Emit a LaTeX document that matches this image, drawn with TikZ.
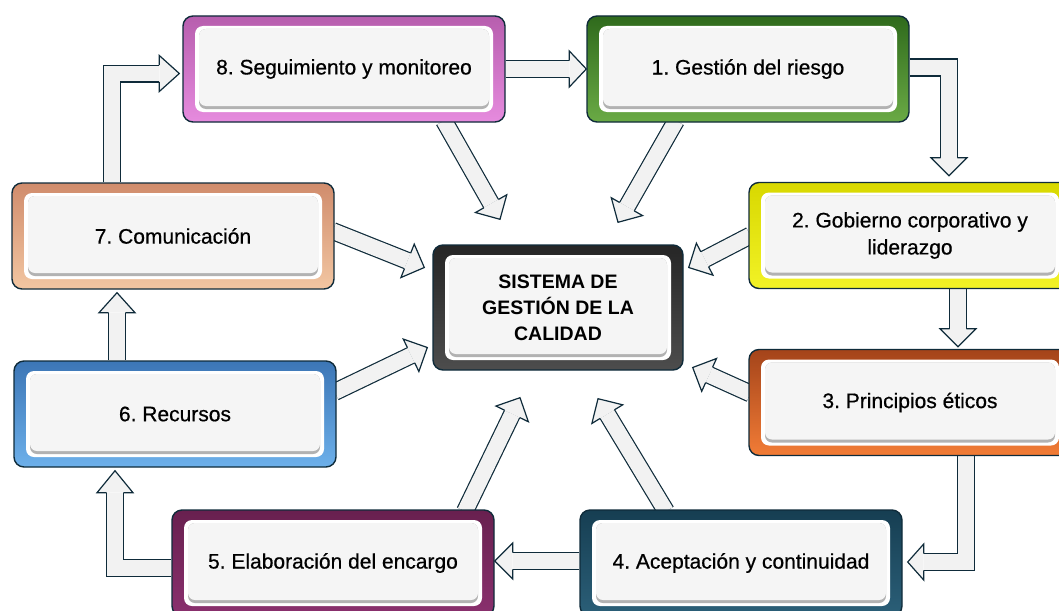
\documentclass[tikz,border=0pt]{standalone}
\usepackage{fontspec}
\setmainfont{Liberation Sans}
\newfontfamily\stagefont[FakeBold=0.6]{Liberation Sans}
\usetikzlibrary{calc,backgrounds}

\definecolor{edge}{HTML}{0F2B3A}
\definecolor{arrowfill}{HTML}{F2F2F2}
\definecolor{facefill}{HTML}{F5F5F5}
\definecolor{pinkT}{HTML}{B75EAE}
\definecolor{pinkB}{HTML}{E68BDE}
\definecolor{greenT}{HTML}{2F6A1C}
\definecolor{greenB}{HTML}{6AAA45}
\definecolor{yellowT}{HTML}{D8D800}
\definecolor{yellowB}{HTML}{F2F226}
\definecolor{orangeT}{HTML}{A4441A}
\definecolor{orangeB}{HTML}{F27C36}
\definecolor{tealT}{HTML}{163E52}
\definecolor{tealB}{HTML}{2B5F78}
\definecolor{plumT}{HTML}{68204F}
\definecolor{plumB}{HTML}{8A306E}
\definecolor{blueT}{HTML}{3C76B6}
\definecolor{blueB}{HTML}{6DB0EA}
\definecolor{peachT}{HTML}{D08C6C}
\definecolor{peachB}{HTML}{F2C6A2}
\definecolor{coreT}{HTML}{262626}
\definecolor{coreB}{HTML}{4D4D4D}

\frenchspacing

\begin{document}
\begin{tikzpicture}[x=1pt,y=-1pt]
    \tikzstyle{stage}=[rounded corners=10pt, draw=edge, line width=1.4pt, minimum width=322pt, minimum height=106pt,
        inner sep=0pt, align=center, text=black, font=\stagefont\fontsize{21}{27}\selectfont,
        path picture={
            \fill[white, rounded corners=8pt] ([shift={(12pt,-10pt)}]path picture bounding box.north west) rectangle ([shift={(-12pt,10pt)}]path picture bounding box.south east);
            \fill[black!30, rounded corners=7pt] ([shift={(16pt,-13pt)}]path picture bounding box.north west) rectangle ([shift={(-16pt,13pt)}]path picture bounding box.south east);
            \fill[facefill, rounded corners=7pt] ([shift={(16pt,-13pt)}]path picture bounding box.north west) rectangle ([shift={(-16pt,16pt)}]path picture bounding box.south east);
        }]
    \tikzstyle{shaft}=[line width=15.6pt, draw=arrowfill, preaction={draw=edge, line width=18pt}]
    \tikzstyle{head}=[fill=arrowfill, draw=edge, line width=1.2pt, line join=miter]

    \useasboundingbox (0,0) rectangle (1059,610);

    % Draw the eight stages round the system
    \foreach \name/\x/\y/\ct/\cb/\txt in {
        b8/344/69/pinkT/pinkB/{8. Seguimiento y monitoreo},
        b1/748/69/greenT/greenB/{1. Gestión del riesgo},
        b2/910/235.5/yellowT/yellowB/{2. Gobierno corporativo y\\liderazgo},
        b3/910/402.5/orangeT/orangeB/{3. Principios éticos},
        b4/741/563/tealT/tealB/{4. Aceptación y continuidad},
        b5/333/563/plumT/plumB/{5. Elaboración del encargo},
        b6/175/414/blueT/blueB/{6. Recursos},
        b7/173/236/peachT/peachB/{7. Comunicación}}
        \node[stage, top color=\ct, bottom color=\cb] (\name) at (\x,\y) {\txt};

    % The system in the middle
    \node[stage, top color=coreT, bottom color=coreB, minimum width=250pt, minimum height=125pt,
        font=\fontsize{19.5}{26}\selectfont\bfseries] (core) at (558,307.5) {SISTEMA DE\\GESTIÓN DE LA\\CALIDAD};

    % Ends of the arrows into the system
    \coordinate (s8) at ([xshift=100pt,yshift=2pt]b8.south);
    \coordinate (t8) at ([xshift=-58pt,yshift=25pt]core.north);
    \coordinate (s1) at ([xshift=-72pt,yshift=2pt]b1.south);
    \coordinate (t1) at ([xshift=60pt,yshift=22pt]core.north);
    \coordinate (s2) at ([xshift=2pt]b2.west);
    \coordinate (t2) at ([xshift=5pt,yshift=40pt]core.east);
    \coordinate (s3) at ([xshift=2pt,yshift=9pt]b3.west);
    \coordinate (t3) at ([xshift=9pt,yshift=-60pt]core.east);
    \coordinate (s4) at ([xshift=-75pt,yshift=-2pt]b4.north);
    \coordinate (t4) at ([xshift=40pt,yshift=-28pt]core.south);
    \coordinate (s5) at ([xshift=132pt,yshift=-2pt]b5.north);
    \coordinate (t5) at ([xshift=-38pt,yshift=-27pt]core.south);
    \coordinate (s6) at ([xshift=-2pt,yshift=22pt]b6.east);
    \coordinate (t6) at ([xshift=-5pt,yshift=-40pt]core.west);
    \coordinate (s7) at ([xshift=-2pt,yshift=5pt]b7.east);
    \coordinate (t7) at ([xshift=-8pt,yshift=40pt]core.west);

    % Tips and head bases of the arrows round the cycle
    \coordinate (d8) at (b8.east -| b1.west);
    \coordinate (c8) at ([xshift=-17pt]d8);
    \coordinate (d1) at ([xshift=39pt,yshift=6pt]b2.north);
    \coordinate (c1) at ([yshift=18pt]d1);
    \coordinate (d2) at ([xshift=48pt,yshift=2pt]b3.north);
    \coordinate (c2) at ([yshift=18pt]d2);
    \coordinate (d3) at ([xshift=5pt,yshift=1pt]b4.east);
    \coordinate (c3) at ([xshift=16pt]d3);
    \coordinate (d4) at ([yshift=2pt]b5.east);
    \coordinate (c4) at ([xshift=18pt]d4);
    \coordinate (d5) at ([xshift=-60pt,yshift=-3pt]b6.south);
    \coordinate (c5) at ([yshift=-22pt]d5);
    \coordinate (d6) at ([xshift=-56pt,yshift=-3pt]b7.south);
    \coordinate (c6) at ([yshift=-20pt]d6);
    \coordinate (d7) at ([xshift=-3pt,yshift=-4.5pt]b8.west);
    \coordinate (c7) at ([xshift=-20pt]d7);

    \begin{scope}[on background layer]
    % Arrows from every stage into the system
    \foreach \i in {1,...,8} {
        \coordinate (h\i) at ($(t\i)!18pt!(s\i)$);
        \draw[shaft] (s\i) -- (h\i);
        \filldraw[head] ($(h\i)!8.4pt!90:(t\i)$) -- ($(h\i)!18pt!90:(t\i)$) -- (t\i)
            -- ($(h\i)!18pt!-90:(t\i)$) -- ($(h\i)!8.4pt!-90:(t\i)$);
    }

    % Arrows round the cycle
    \draw[shaft] (b8.east) -- (c8);
    \draw[shaft] ([yshift=1.5pt]b1.east) -| (c1);
    \draw[shaft] ([xshift=48pt]b2.south) -- (c2);
    \draw[shaft] ([xshift=56pt]b3.south) |- (c3);
    \draw[shaft] ([yshift=2pt]b4.west) -- (c4);
    \draw[shaft] ([yshift=-5pt]b5.west) -| (c5);
    \draw[shaft] ([xshift=-58pt]b6.north) -- (c6);
    \draw[shaft] ([xshift=-61pt]b7.north) |- (c7);
    \foreach \i in {1,...,8}
        \filldraw[head] ($(c\i)!8.4pt!90:(d\i)$) -- ($(c\i)!18pt!90:(d\i)$) -- (d\i)
            -- ($(c\i)!18pt!-90:(d\i)$) -- ($(c\i)!8.4pt!-90:(d\i)$);
    \end{scope}
\end{tikzpicture}
\end{document}
